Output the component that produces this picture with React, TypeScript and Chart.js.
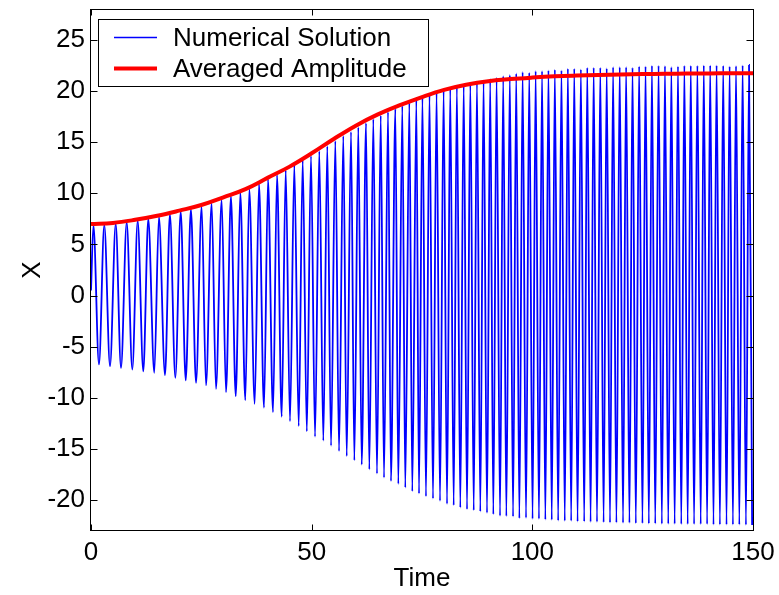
import React, { useEffect, useRef } from "react";
import { Chart, registerables } from "chart.js";

Chart.register(...registerables);

// ---- data ----
const xTicks = [0, 50, 100, 150];
const yTicks = [-20, -15, -10, -5, 0, 5, 10, 15, 20, 25];
const seriesLabels = ["Numerical Solution", "Averaged Amplitude"];
const axisTitles = { x: "Time", y: "X" };

const startTime = 0;
const startValue = 0.5;

const peakTimes = [
  0.55, 3.01, 5.6, 8.09, 10.58, 12.98, 15.39, 17.88, 20.33, 22.64, 25.07, 27.34,
  29.61, 31.71, 33.83, 35.87, 38.07, 40.11, 42.15, 44.12, 46.07, 47.97, 49.85,
  51.73, 53.54, 55.36, 57.17, 58.92, 60.57, 62.32, 63.97, 65.65, 67.3, 68.96,
  70.54, 72.13, 73.72, 75.1, 76.7, 78.3, 79.9, 81.4, 82.9, 84.45, 85.95, 87.45,
  88.95, 90.45, 91.9, 93.4, 94.9, 96.35, 97.8, 99.3, 100.75, 102.2, 103.65,
  105.1, 106.6, 108.05, 109.5, 111.0, 112.45, 113.9, 115.4, 116.85, 118.3,
  119.8, 121.25, 122.7, 124.2, 125.65, 127.1, 128.6, 130.05, 131.5, 133.0,
  134.45, 135.9, 137.4, 138.85, 140.3, 141.75, 143.25, 144.7, 146.15, 147.65,
  149.1,
];
const peakValues = [
  6.85, 6.9, 7.0, 7.15, 7.3, 7.5, 7.7, 7.95, 8.2, 8.45, 8.7, 9.0, 9.35, 9.7,
  10.05, 10.4, 10.9, 11.35, 11.8, 12.25, 12.75, 13.2, 13.65, 14.1, 14.6, 15.1,
  15.6, 16.0, 16.45, 16.85, 17.25, 17.6, 17.95, 18.25, 18.55, 18.85, 19.1,
  19.35, 19.6, 19.85, 20.05, 20.25, 20.45, 20.6, 20.75, 20.9, 21.0, 21.15, 21.3,
  21.45, 21.55, 21.7, 21.85, 21.79, 21.95, 21.95, 22.01, 22.08, 22.01, 22.18,
  22.18, 22.11, 22.27, 22.27, 22.27, 22.21, 22.34, 22.34, 22.34, 22.27, 22.4,
  22.4, 22.47, 22.47, 22.44, 22.34, 22.4, 22.47, 22.47, 22.47, 22.5, 22.5, 22.5,
  22.47, 22.4, 22.44, 22.5, 22.53,
];

const troughTimes = [
  1.81, 4.31, 6.8, 9.36, 11.85, 14.34, 16.77, 19.11, 21.46, 23.8, 26.06, 28.32,
  30.59, 32.79, 34.96, 37.09, 39.2, 41.24, 43.21, 45.09, 47.06, 48.9, 50.76,
  52.64, 54.39, 56.2, 57.94, 59.67, 61.34, 63.06, 64.8, 66.39, 67.97, 69.63,
  71.21, 72.8, 74.32, 75.9, 77.49, 79.08, 80.67, 82.18, 83.68, 85.2, 86.72,
  88.21, 89.73, 91.16, 92.68, 94.11, 95.63, 97.06, 98.57, 100.05, 101.5, 102.95,
  104.4, 105.85, 107.35, 108.8, 110.25, 111.75, 113.2, 114.65, 116.15, 117.6,
  119.05, 120.55, 122.0, 123.45, 124.95, 126.4, 127.85, 129.35, 130.8, 132.25,
  133.75, 135.2, 136.65, 138.15, 139.6, 141.05, 142.5, 144.0, 145.45, 146.9,
  148.4, 149.8,
];
const troughValues = [
  -6.73, -6.9, -7.06, -7.22, -7.41, -7.54, -7.78, -8.03, -8.29, -8.52, -8.78,
  -9.11, -9.44, -9.83, -10.22, -10.57, -10.96, -11.38, -11.84, -12.27, -12.75,
  -13.27, -13.79, -14.18, -14.67, -15.19, -15.68, -16.1, -16.52, -16.98, -17.4,
  -17.79, -18.12, -18.41, -18.76, -19.12, -19.35, -19.61, -19.83, -20.07,
  -20.36, -20.49, -20.71, -20.88, -20.98, -21.1, -21.24, -21.37, -21.53, -21.56,
  -21.59, -21.76, -21.73, -21.83, -21.83, -21.89, -21.92, -21.99, -22.02,
  -22.02, -22.08, -22.08, -22.12, -22.12, -22.15, -22.18, -22.18, -22.21,
  -22.21, -22.25, -22.25, -22.28, -22.28, -22.31, -22.31, -22.31, -22.34,
  -22.34, -22.34, -22.34, -22.34, -22.38, -22.38, -22.38, -22.38, -22.38,
  -22.41, -22.41,
];

const avgTimes = [
  0, 5, 10, 15, 20, 25, 30, 35, 40, 45, 50, 55, 60, 65, 70, 75, 80, 85, 90, 95,
  100, 105, 110, 115, 120, 125, 130, 135, 140, 145, 150,
];
const avgValues = [
  7.0, 7.1, 7.4, 7.8, 8.3, 8.85, 9.6, 10.4, 11.5, 12.6, 13.9, 15.3, 16.6, 17.7,
  18.6, 19.4, 20.1, 20.6, 20.95, 21.15, 21.3, 21.42, 21.5, 21.56, 21.6, 21.64,
  21.67, 21.69, 21.71, 21.72, 21.73,
];

// ---- layout / style constants ----
const W = 779;
const H = 595;
const FONT = "'Liberation Sans', Arial, Helvetica, sans-serif";
const FONT_SIZE = 26;
const BLUE = "#0000ff";
const RED = "#ff0000";

function buildSolution() {
  const pts: { x: number; y: number }[] = [{ x: startTime, y: startValue }];
  peakTimes.forEach((t, i) => pts.push({ x: t, y: peakValues[i] }));
  troughTimes.forEach((t, i) => pts.push({ x: t, y: troughValues[i] }));
  pts.sort((a, b) => a.x - b.x);
  return pts;
}

function buildAverage() {
  return avgTimes.map((t, i) => ({ x: t, y: avgValues[i] }));
}

const framePlugin = {
  id: "matlabFrame",
  afterDatasetsDraw(chart: any) {
    const { ctx, chartArea: ca, scales } = chart;
    const xs = scales.x;
    const ys = scales.y;
    const tick = 6.5;
    ctx.save();
    ctx.strokeStyle = "#000";
    ctx.lineWidth = 1;
    ctx.beginPath();
    xTicks.forEach((v) => {
      const px = Math.round(xs.getPixelForValue(v)) + 0.5;
      ctx.moveTo(px, ca.bottom);
      ctx.lineTo(px, ca.bottom - tick);
      ctx.moveTo(px, ca.top);
      ctx.lineTo(px, ca.top + tick);
    });
    yTicks.forEach((v) => {
      const py = Math.round(ys.getPixelForValue(v)) + 0.5;
      ctx.moveTo(ca.left, py);
      ctx.lineTo(ca.left + tick, py);
      ctx.moveTo(ca.right, py);
      ctx.lineTo(ca.right - tick, py);
    });
    ctx.stroke();
    ctx.strokeRect(
      ca.left - 0.5,
      ca.top + 0.5,
      ca.right - ca.left + 1,
      ca.bottom - ca.top - 1
    );
    ctx.restore();
  },
};

const legendPlugin = {
  id: "boxLegend",
  afterDraw(chart: any) {
    const { ctx, chartArea: ca } = chart;
    const bx = Math.round(ca.left + 7);
    const by = Math.round(ca.top + 10);
    const bw = 330;
    const bh = 67;
    ctx.save();
    ctx.fillStyle = "#fff";
    ctx.fillRect(bx, by, bw, bh);
    ctx.strokeStyle = "#000";
    ctx.lineWidth = 1;
    ctx.strokeRect(bx + 0.5, by + 0.5, bw, bh);
    const rows = [
      { lineY: by + 18.5, textY: by + 19.5 },
      { lineY: by + 49.5, textY: by + 50.5 },
    ];
    chart.data.datasets.forEach((ds: any, i: number) => {
      const r = rows[i];
      ctx.strokeStyle = ds.borderColor;
      ctx.lineWidth = i === 0 ? 1.6 : ds.borderWidth;
      ctx.beginPath();
      ctx.moveTo(bx + 16, r.lineY);
      ctx.lineTo(bx + 59, r.lineY);
      ctx.stroke();
      ctx.fillStyle = "#000";
      ctx.font = `${FONT_SIZE}px ${FONT}`;
      ctx.textAlign = "left";
      ctx.textBaseline = "middle";
      ctx.fillText(ds.label, bx + 75, r.textY);
    });
    ctx.restore();
  },
};

const zeroEdgePadding = (s: any) => {
  s.paddingTop = 0;
  s.paddingBottom = 0;
  s.paddingLeft = 0;
  s.paddingRight = 0;
};

export default function App() {
  const canvasRef = useRef<HTMLCanvasElement | null>(null);

  useEffect(() => {
    if (!canvasRef.current) return;
    const chart = new Chart(canvasRef.current, {
      type: "line",
      data: {
        datasets: [
          {
            label: seriesLabels[0],
            data: buildSolution(),
            borderColor: BLUE,
            borderWidth: 1.8,
            pointRadius: 0,
            fill: false,
            cubicInterpolationMode: "monotone",
            order: 1,
          },
          {
            label: seriesLabels[1],
            data: buildAverage(),
            borderColor: RED,
            borderWidth: 4,
            pointRadius: 0,
            fill: false,
            tension: 0.4,
            order: 0,
          },
        ],
      },
      options: {
        animation: false,
        responsive: false,
        devicePixelRatio: 1,
        layout: { padding: { top: 9, right: 26, bottom: 0, left: 0 } },
        plugins: {
          legend: { display: false },
          tooltip: { enabled: false },
        },
        scales: {
          x: {
            type: "linear",
            min: 0,
            max: 150,
            grid: { display: false, drawTicks: false },
            border: { display: false },
            afterBuildTicks: (s: any) => {
              s.ticks = xTicks.map((v) => ({ value: v }));
            },
            afterFit: (s: any) => {
              s.height = 64;
              zeroEdgePadding(s);
            },
            ticks: {
              color: "#000",
              font: { family: FONT, size: FONT_SIZE },
              padding: 6,
              maxRotation: 0,
              autoSkip: false,
            },
            title: {
              display: true,
              text: axisTitles.x,
              color: "#000",
              font: { family: FONT, size: FONT_SIZE },
              padding: { top: 0, bottom: 1 },
            },
          },
          y: {
            type: "linear",
            min: -23,
            max: 28,
            grid: { display: false, drawTicks: false },
            border: { display: false },
            afterBuildTicks: (s: any) => {
              s.ticks = yTicks.map((v) => ({ value: v }));
            },
            afterFit: (s: any) => {
              s.width = 91;
              zeroEdgePadding(s);
            },
            ticks: {
              color: "#000",
              font: { family: FONT, size: FONT_SIZE },
              padding: 6,
              autoSkip: false,
            },
            title: {
              display: true,
              text: axisTitles.y,
              color: "#000",
              font: { family: FONT, size: FONT_SIZE },
              padding: { top: 17, bottom: 0 },
            },
          },
        },
      },
      plugins: [framePlugin, legendPlugin],
    } as any);
    return () => chart.destroy();
  }, []);

  return (
    <div
      style={{
        position: "absolute",
        left: 0,
        top: 0,
        width: W,
        height: H,
        background: "#fff",
      }}
    >
      <canvas ref={canvasRef} width={W} height={H} style={{ display: "block" }} />
    </div>
  );
}
